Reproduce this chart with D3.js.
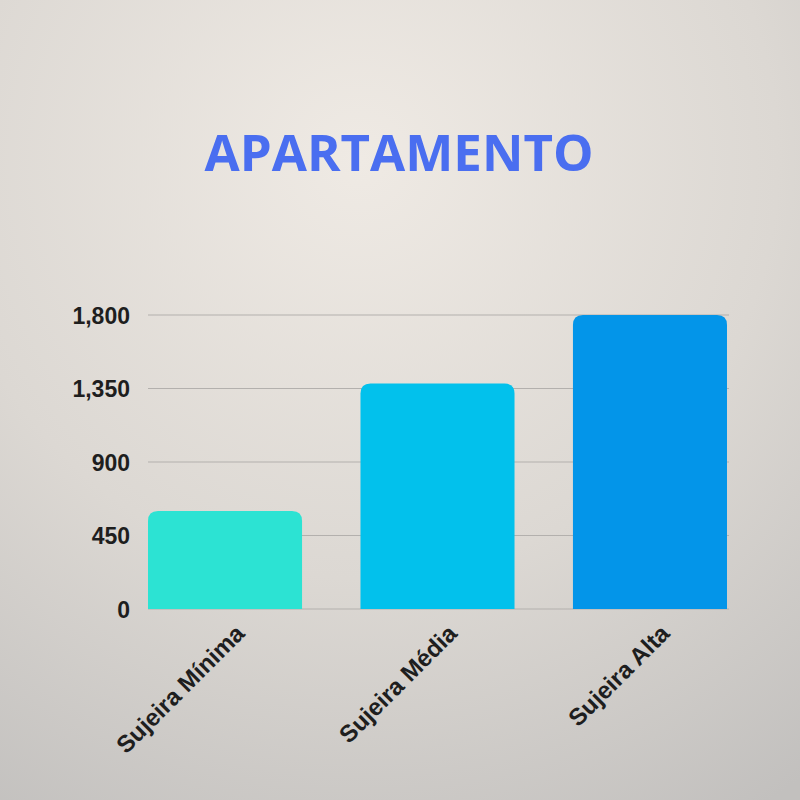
<!DOCTYPE html>
<html>
<head>
<meta charset="utf-8">
<script src="https://cdn.jsdelivr.net/npm/d3@7"></script>
<style>
  html, body { margin: 0; padding: 0; }
  body { width: 800px; height: 800px; overflow: hidden; }
</style>
</head>
<body>
<div id="chart"></div>
<script>
// chart data
var categories = ["Sujeira Mínima", "Sujeira Média", "Sujeira Alta"];
var values = [600, 1380, 1800];
var barColors = ["#2ce3d3", "#02c1ec", "#0395e9"];
var yTicks = [0, 450, 900, 1350, 1800];
var title = "APARTAMENTO";

var width = 800, height = 800;

var svg = d3.select("#chart").append("svg")
    .attr("width", width)
    .attr("height", height);

// background, a soft stone-like gradient
var defs = svg.append("defs");
var bg = defs.append("radialGradient")
    .attr("id", "bg")
    .attr("cx", "45%").attr("cy", "20%").attr("r", "95%");
bg.append("stop").attr("offset", "0%").attr("stop-color", "#efeae4");
bg.append("stop").attr("offset", "55%").attr("stop-color", "#dcd8d3");
bg.append("stop").attr("offset", "100%").attr("stop-color", "#c2c0be");

svg.append("rect")
    .attr("width", width)
    .attr("height", height)
    .attr("fill", "url(#bg)");

// title
svg.append("text")
    .attr("x", 399)
    .attr("y", 171)
    .attr("text-anchor", "middle")
    .style("font-family", "'Open Sans', sans-serif")
    .style("font-weight", 700)
    .style("font-size", "51px")
    .style("fill", "#4a6ef0")
    .text(title);

// scales
var x = d3.scaleBand()
    .domain(categories)
    .range([148, 727])
    .paddingInner(0.275)
    .paddingOuter(0);

var y = d3.scaleLinear()
    .domain([0, 1800])
    .range([609, 315]);

// grid lines
svg.append("g")
    .selectAll("line")
    .data(yTicks)
    .enter().append("line")
    .attr("x1", 148)
    .attr("x2", 729)
    .attr("y1", function(d) { return y(d); })
    .attr("y2", function(d) { return y(d); })
    .style("stroke", "#b3b0ad")
    .style("stroke-width", 1);

// y axis labels
var yAxis = d3.axisLeft(y)
    .tickValues(yTicks)
    .tickFormat(d3.format(","))
    .tickSize(0)
    .tickPadding(0);

var yg = svg.append("g")
    .attr("transform", "translate(130,0)")
    .call(yAxis);
yg.select(".domain").remove();
yg.selectAll("text")
    .style("font-family", "'Liberation Sans', Arial, sans-serif")
    .style("font-weight", "bold")
    .style("font-size", "23px")
    .style("fill", "#1e1e1e")
    .attr("dy", "0.36em");

// bars with rounded tops
function barPath(d, i) {
  var x0 = x(categories[i]);
  var w = x.bandwidth();
  var y0 = y(0);
  var y1 = y(d);
  var r = 10;
  return "M" + x0 + "," + y0 +
    "V" + (y1 + r) +
    "Q" + x0 + "," + y1 + " " + (x0 + r) + "," + y1 +
    "H" + (x0 + w - r) +
    "Q" + (x0 + w) + "," + y1 + " " + (x0 + w) + "," + (y1 + r) +
    "V" + y0 + "Z";
}

svg.append("g")
    .selectAll("path")
    .data(values)
    .enter().append("path")
    .attr("d", barPath)
    .style("fill", function(d, i) { return barColors[i]; });

// rotated category labels
svg.append("g")
    .selectAll("text")
    .data(categories)
    .enter().append("text")
    .attr("transform", function(d) {
      var cx = x(d) + x.bandwidth() / 2 + 21;
      return "translate(" + cx + ",635) rotate(-45)";
    })
    .attr("text-anchor", "end")
    .style("font-family", "'Liberation Sans', Arial, sans-serif")
    .style("font-weight", "bold")
    .style("font-size", "24px")
    .style("fill", "#1e1e1e")
    .text(function(d) { return d; });
</script>
</body>
</html>
